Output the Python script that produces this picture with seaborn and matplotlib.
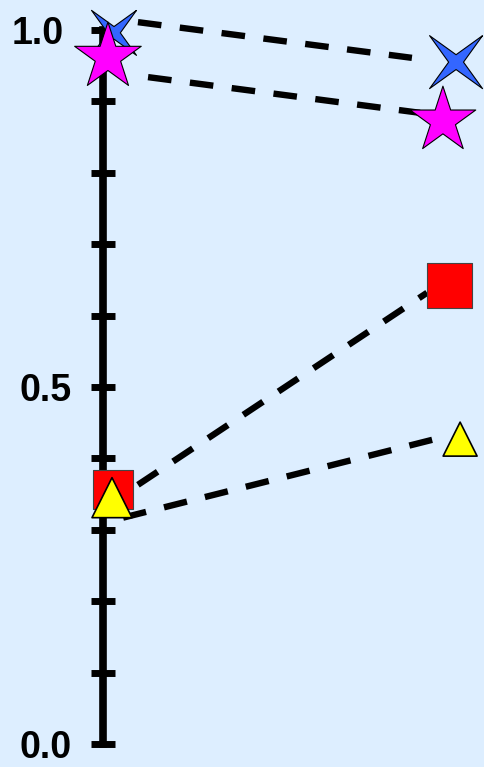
import matplotlib
matplotlib.use('Agg')
import matplotlib.pyplot as plt
import matplotlib.transforms as mtransforms
import seaborn as sns
import numpy as np

# ── Data ───────────────────────────────────────────────────────
# markers: [left, right]
blue_x = [0.003, 1.018]
blue_y = [0.996, 0.955]
blue_size = [45, 53]          # px across

magenta_x = [-0.015, 0.979]
magenta_y = [0.962, 0.873]
magenta_size = [70, 69]

red_x = [0.0, 0.999]
red_y = [0.356, 0.642]
red_size = [39, 45]

yellow_x = [-0.003, 1.030]
yellow_y = [0.345, 0.427]
yellow_size = [40, 34]

# dashed connectors: [start, end]
blue_line_x = [0.074, 0.887]
blue_line_y = [1.011, 0.961]
magenta_line_x = [0.104, 0.911]
magenta_line_y = [0.934, 0.884]
red_line_x = [0.074, 0.932]
red_line_y = [0.363, 0.632]
yellow_line_x = [0.030, 0.947]
yellow_line_y = [0.317, 0.426]

ytick_major = [0.0, 0.5, 1.0]
ytick_labels = ['0.0', '0.5', '1.0']
ytick_minor = [0.1, 0.2, 0.3, 0.4, 0.6, 0.7, 0.8, 0.9]

BG = '#ddeeff'
DPI = 100

# 4-point star, tips on the diagonals
r_in = 0.28
star4 = [(1, 1), (r_in, 0), (1, -1), (0, -r_in), (-1, -1), (-r_in, 0),
         (-1, 1), (0, r_in), (1, 1)]


def px_to_s(px):
    pt = np.array(px) * 72 / DPI
    return pt ** 2


sns.set_style('white')
plt.rcParams['font.family'] = ['Liberation Sans', 'DejaVu Sans']

fig = plt.figure(figsize=(4.85, 7.67), dpi=DPI, facecolor=BG)
ax = fig.add_axes([103 / 485, 0, 382 / 485, 1])
ax.set_facecolor(BG)

# ── Dashed lines ───────────────────────────────────────────────
dash = (0, (3.7, 2.9))
for lx, ly in [(blue_line_x, blue_line_y), (magenta_line_x, magenta_line_y),
               (red_line_x, red_line_y), (yellow_line_x, yellow_line_y)]:
    sns.lineplot(x=lx, y=ly, ax=ax, color='black', lw=4.6,
                 linestyle=dash, sort=False, zorder=2, clip_on=False)

# ── Markers ────────────────────────────────────────────────────
sns.scatterplot(x=blue_x, y=blue_y, ax=ax, marker=star4, s=px_to_s(blue_size),
                color='#3366ff', edgecolor='black', linewidth=0.8,
                zorder=4, clip_on=False)
sns.scatterplot(x=magenta_x, y=magenta_y, ax=ax, marker='*',
                s=px_to_s(magenta_size), color='#ff00ff', edgecolor='black',
                linewidth=0.8, zorder=5, clip_on=False)
sns.scatterplot(x=red_x, y=red_y, ax=ax, marker='s', s=px_to_s(red_size),
                color='#ff0000', edgecolor='#444444', linewidth=0.8,
                zorder=4, clip_on=False)
sns.scatterplot(x=yellow_x, y=yellow_y, ax=ax, marker='^',
                s=px_to_s(yellow_size), color='#ffff00', edgecolor='black',
                linewidth=1.2, zorder=5, clip_on=False)

# ── Axes styling ───────────────────────────────────────────────
ax.set_xlim(-10 / 337, 372 / 337)
ax.set_ylim(-23 / 714, 744 / 714)
for side in ['top', 'right', 'bottom']:
    ax.spines[side].set_visible(False)
ax.spines['left'].set_linewidth(5.5)
ax.spines['left'].set_color('black')
ax.spines['left'].set_bounds(0, 1)
ax.spines['left'].set_zorder(3)

ax.set_xticks([])
ax.set_yticks(ytick_major)
ax.set_yticklabels(ytick_labels)
ax.set_yticks(ytick_minor, minor=True)
ax.tick_params(axis='y', which='both', direction='inout', length=17,
               width=5, color='black', left=True)
ax.tick_params(axis='y', which='major', pad=14, labelsize=27,
               labelcolor='black')
for lab in ax.get_yticklabels():
    lab.set_fontweight('bold')
    if lab.get_text() == '1.0':
        # the top label sits a little further left in the reference
        lab.set_transform(lab.get_transform() + mtransforms.ScaledTranslation(
            -8 / DPI, 0, fig.dpi_scale_trans))

plt.savefig('out.png', dpi=DPI, facecolor=BG)
plt.close()
